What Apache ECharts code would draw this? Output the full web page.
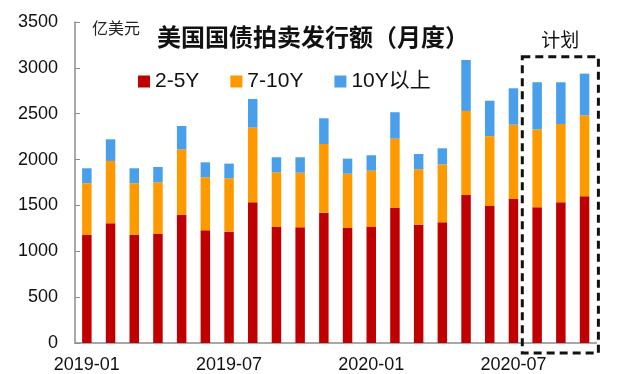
<!DOCTYPE html>
<html>
<head>
<meta charset="utf-8">
<script src="https://cdn.jsdelivr.net/npm/echarts@6/dist/echarts.min.js"></script>
<style>html,body{margin:0;padding:0;background:#fff}#c{width:640px;height:374px}</style>
</head>
<body>
<div id="c"></div>
<script>
const months = ['2019-01','2019-02','2019-03','2019-04','2019-05','2019-06','2019-07','2019-08','2019-09','2019-10','2019-11','2019-12',
                '2020-01','2020-02','2020-03','2020-04','2020-05','2020-06','2020-07','2020-08','2020-09','2020-10'];
const seriesNames = ['2-5Y', '7-10Y', '10Y以上'];
const short = [1178,1305,1178,1189,1396,1229,1214,1534,1265,1262,1421,1254,1269,1472,1290,1316,1614,1494,1570,1480,1534,1600];
const mid   = [563,680,563,563,716,578,582,814,596,595,749,592,610,756,604,632,916,761,811,850,854,883];
const long  = [164,236,164,167,254,163,160,313,164,168,280,164,168,288,167,175,556,387,396,513,455,454];
const planMonths = ['2020-08','2020-09','2020-10'];
const yTicks = {min: 0, max: 3500, interval: 500};

const colors = ['#C00000', '#FF9900', '#4A9FEA'];
const chart = echarts.init(document.getElementById('c'));
const axisColor = '#8c8c8c';
const numFont = '"Liberation Sans", Arial, sans-serif';
const cjkFont = '"Noto Sans CJK SC", sans-serif';

const option = {
  animation: false,
  grid: {left: 75, right: 43.6, top: 22, bottom: 31},
  legend: {
    data: seriesNames,
    left: 133, top: 66,
    itemWidth: 12, itemHeight: 12, itemGap: 31,
    icon: 'rect',
    textStyle: {fontSize: 21, color: '#111', fontFamily: numFont + ',' + cjkFont}
  },
  xAxis: {
    type: 'category',
    data: months,
    axisLine: {lineStyle: {color: axisColor, width: 1.5}},
    axisTick: {inside: true, interval: 5, length: 5, lineStyle: {color: axisColor}},
    axisLabel: {interval: 5, fontSize: 18, color: '#111', fontFamily: numFont, margin: 13}
  },
  yAxis: {
    type: 'value',
    min: yTicks.min, max: yTicks.max, interval: yTicks.interval,
    axisLine: {show: true, lineStyle: {color: axisColor, width: 1.5}},
    axisTick: {show: true, inside: true, length: 5, lineStyle: {color: axisColor}},
    splitLine: {show: false},
    axisLabel: {fontSize: 18, color: '#111', fontFamily: numFont, margin: 17, formatter: v => String(v)}
  },
  series: [short, mid, long].map((d, i) => ({
    name: seriesNames[i],
    type: 'bar',
    stack: 'total',
    data: d,
    barWidth: '40%',
    itemStyle: {color: colors[i]}
  }))
};
chart.setOption(option);

// annotation overlay computed from the axes
const x0 = chart.convertToPixel({xAxisIndex: 0}, planMonths[0]);
const x1 = chart.convertToPixel({xAxisIndex: 0}, planMonths[planMonths.length - 1]);
const band = chart.convertToPixel({xAxisIndex: 0}, months[1]) - chart.convertToPixel({xAxisIndex: 0}, months[0]);
const yTop = chart.convertToPixel({yAxisIndex: 0}, 3120);
const yZero = chart.convertToPixel({yAxisIndex: 0}, 0);
const bx = x0 - band / 2 - 3, bw = (x1 - x0) + band + 5;
chart.setOption({
  graphic: [
    {type: 'rect', shape: {x: bx, y: yTop, width: bw, height: yZero + 10 - yTop},
     style: {fill: 'none', stroke: '#111', lineWidth: 3, lineDash: [8, 5]}, z: 10},
    {type: 'text', x: bx + bw / 2, y: yTop - 17,
     style: {text: '计划', fill: '#111', font: '19px ' + cjkFont, align: 'center', verticalAlign: 'middle'}},
    {type: 'text', x: 92, y: 28,
     style: {text: '亿美元', fill: '#222', font: '16px ' + cjkFont, align: 'left', verticalAlign: 'middle'}},
    {type: 'text', x: 157, y: 37,
     style: {text: '美国国债拍卖发行额（月度）', fill: '#111', font: 'bold 24px ' + cjkFont, align: 'left', verticalAlign: 'middle'}}
  ]
});
</script>
</body>
</html>
